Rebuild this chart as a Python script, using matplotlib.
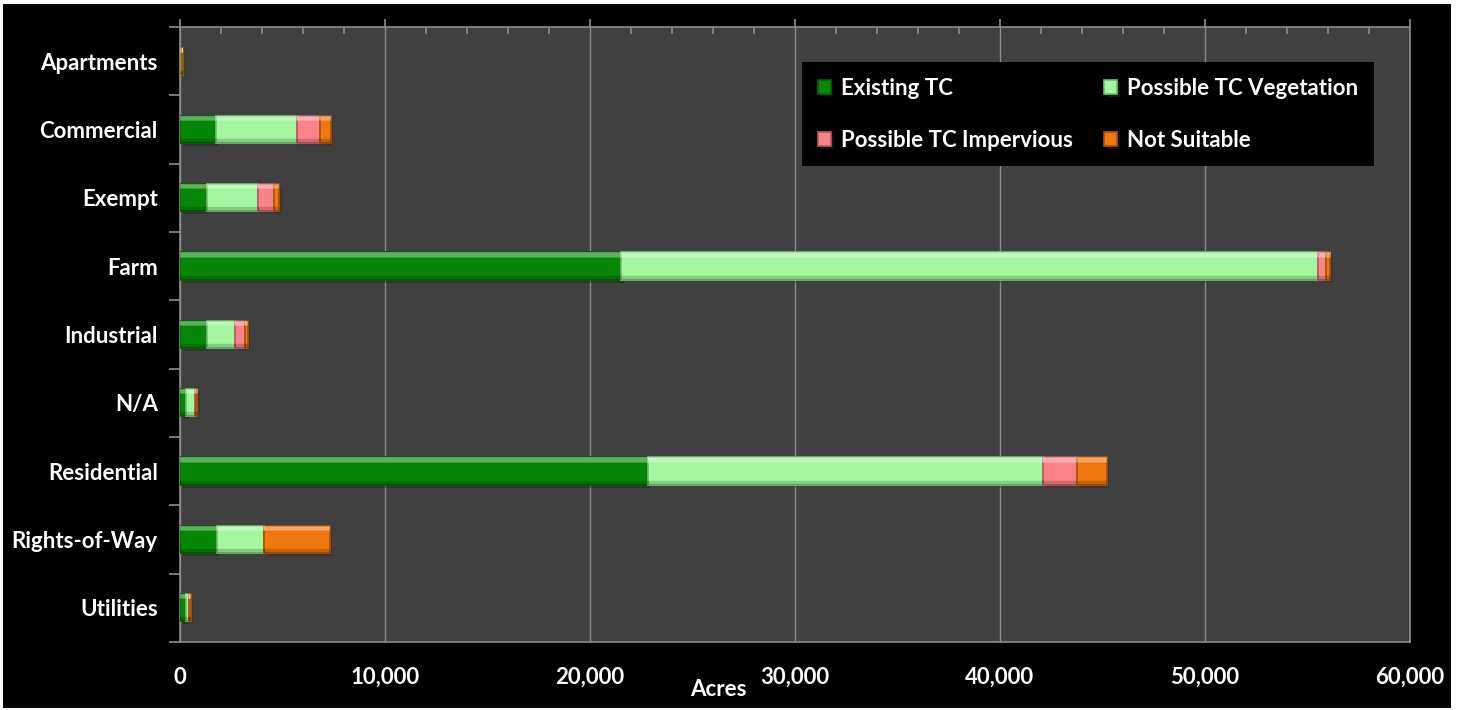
import matplotlib
matplotlib.use("Agg")
import matplotlib.pyplot as plt
import matplotlib.patches as mpatches
import matplotlib.patheffects as pe
from matplotlib.ticker import FuncFormatter, MultipleLocator
import numpy as np

# Land-use categories (top to bottom) and tree-canopy acreage per class
categories = ["Apartments", "Commercial", "Exempt", "Farm", "Industrial",
              "N/A", "Residential", "Rights-of-Way", "Utilities"]
existing_tc = [30, 1740, 1300, 21500, 1300, 290, 22830, 1800, 290]
possible_veg = [80, 3980, 2520, 34000, 1380, 460, 19270, 2280, 160]
possible_imp = [10, 1110, 780, 380, 510, 30, 1640, 20, 10]
not_suitable = [40, 520, 240, 210, 110, 60, 1460, 3200, 60]

series_names = ["Existing TC", "Possible TC Vegetation",
                "Possible TC Impervious", "Not Suitable"]
series_values = [existing_tc, possible_veg, possible_imp, not_suitable]
face_colors = ["#078707", "#a4f7a0", "#fa8389", "#ee770f"]
edge_colors = ["#056005", "#6fbf6c", "#b85a60", "#a9520a"]

W, H, DPI = 1461, 710, 100
fig = plt.figure(figsize=(W / DPI, H / DPI), dpi=DPI, facecolor="white")
fig.patches.append(mpatches.Rectangle((3 / W, 2 / H), 1448 / W, 704 / H,
                                      transform=fig.transFigure,
                                      facecolor="black", edgecolor="none",
                                      zorder=-10))

ax = fig.add_axes([180 / W, 1 - 642 / H, 1230 / W, 615 / H])
ax.set_facecolor("#404040")

# bevel shading: light strip along the top edge, darker strip along the bottom
n = 40
shade = np.zeros((n, 1, 4))
t = np.linspace(0, 1, n)
shade[:, 0, :3] = np.where(t < 0.5, 1.0, 0.0)[:, None]
shade[:, 0, 3] = np.where(t < 0.18, 0.35, np.where(t > 0.85, 0.18, 0.0))

y = np.arange(len(categories))
left = np.zeros(len(categories))
shadow = [pe.SimplePatchShadow(offset=(2, -2), alpha=0.35), pe.Normal()]
handles = []
for name, vals, fc, ec in zip(series_names, series_values, face_colors, edge_colors):
    bars = ax.barh(y, vals, left=left, height=0.4, color=fc, edgecolor=ec,
                   linewidth=1.2, label=name, zorder=3)
    for b in bars:
        b.set_path_effects(shadow)
        x0, y0 = b.get_x(), b.get_y()
        im = ax.imshow(shade, extent=(x0, x0 + b.get_width(), y0 + b.get_height(), y0),
                       aspect="auto", interpolation="bilinear", zorder=3.5)
        im.set_clip_path(b)
    handles.append(bars)
    left += np.array(vals)

ax.set_ylim(len(categories) - 0.5, -0.5)
ax.set_xlim(0, 60000)

font = "Lato"
fsize = 16
ax.set_yticks(y)
ax.set_yticklabels(categories, fontfamily=font, fontweight="bold",
                   fontsize=fsize, color="white")
ax.tick_params(axis="y", which="major", length=0, pad=16)
ax.set_yticks(np.arange(-0.5, len(categories)), minor=True)
ax.tick_params(axis="y", which="minor", length=8, color="#8c8c8c",
               direction="out", width=1.2)

ax.xaxis.set_major_locator(MultipleLocator(10000))
ax.xaxis.set_major_formatter(FuncFormatter(lambda v, p: f"{int(v):,}"))
ax.xaxis.set_minor_locator(MultipleLocator(2000))
ax.tick_params(axis="x", which="major", bottom=False, top=True, length=6,
               direction="out", color="#8c8c8c", width=1.2,
               labelsize=fsize, labelcolor="white", pad=12)
ax.tick_params(axis="x", which="minor", bottom=False, top=True, length=5,
               direction="in", color="#8c8c8c", width=1.2)
for lab in ax.get_xticklabels():
    lab.set_fontfamily(font)
    lab.set_fontweight("bold")

ax.grid(axis="x", which="major", color="#8a8a8a", linewidth=1, zorder=1)
ax.set_axisbelow(True)
for s in ax.spines.values():
    s.set_color("#8c8c8c")
    s.set_linewidth(1.2)

fig.text(718 / W, 1 - 689 / H, "Acres", ha="center", va="center",
         fontfamily=font, fontweight="bold", fontsize=fsize, color="white")

# legend filled column-wise: reorder so rows read Existing/Vegetation, Impervious/Not Suitable
order = [0, 2, 1, 3]
leg = ax.legend([handles[i] for i in order], [series_names[i] for i in order],
                loc="upper left", bbox_to_anchor=(802 / W, 1 - 62 / H),
                bbox_transform=fig.transFigure, borderaxespad=0, ncol=2,
                frameon=True, facecolor="black", edgecolor="none",
                framealpha=1, borderpad=0.7, labelspacing=1.4,
                columnspacing=1.4, handlelength=0.6, handleheight=0.6,
                handletextpad=0.45,
                prop={"family": font, "weight": "bold", "size": fsize})
leg.get_frame().set_boxstyle("square", pad=0)
leg.set_zorder(10)
for t_ in leg.get_texts():
    t_.set_color("white")

fig.savefig("out.png", dpi=DPI, facecolor=fig.get_facecolor())
